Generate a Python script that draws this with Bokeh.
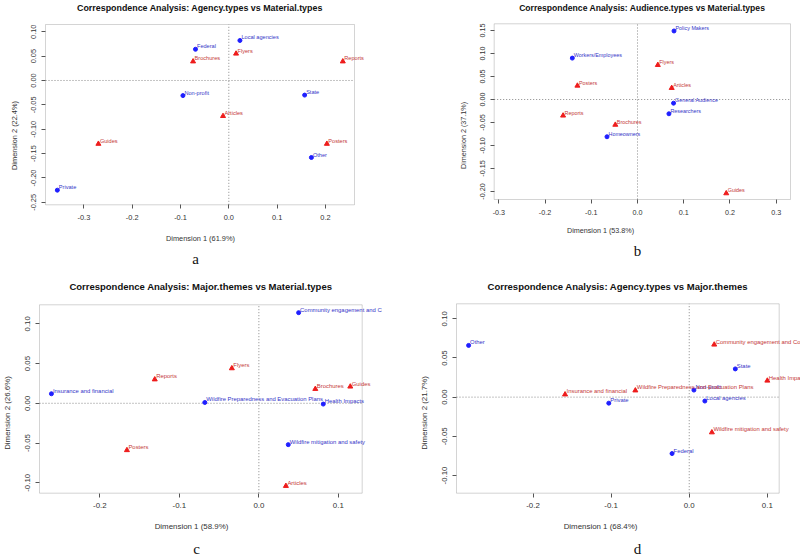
from bokeh.plotting import figure
from bokeh.models import (FixedTicker, Label, LabelSet, Range1d, ColumnDataSource,
                          Spacer, BoxAnnotation)
from bokeh.layouts import column, row
from bokeh.embed import file_html
from bokeh.resources import INLINE
from bokeh.core.properties import value

# ---------------- data ----------------
# Panel a
a_title = "Correspondence Analysis: Agency.types vs Material.types"
a_xlabel = "Dimension 1 (61.9%)"
a_ylabel = "Dimension 2 (22.4%)"
a_row_names = ["Federal", "Local agencies", "Non-profit", "Other", "Private", "State"]
a_row_x = [-0.069, 0.023, -0.095, 0.171, -0.355, 0.157]
a_row_y = [0.064, 0.082, -0.031, -0.158, -0.225, -0.030]
a_col_names = ["Articles", "Brochures", "Flyers", "Guides", "Posters", "Reports"]
a_col_x = [-0.012, -0.074, 0.015, -0.270, 0.203, 0.236]
a_col_y = [-0.073, 0.039, 0.055, -0.130, -0.130, 0.039]
a_xticks = [-0.3, -0.2, -0.1, 0.0, 0.1, 0.2]
a_xtick_labels = ["-0.3", "-0.2", "-0.1", "0.0", "0.1", "0.2"]
a_yticks = [-0.25, -0.20, -0.15, -0.10, -0.05, 0.0, 0.05, 0.10]
a_ytick_labels = ["-0.25", "-0.20", "-0.15", "-0.10", "-0.05", "0.00", "0.05", "0.10"]

# Panel b
b_title = "Correspondence Analysis: Audience.types vs Material.types"
b_xlabel = "Dimension 1 (53.8%)"
b_ylabel = "Dimension 2 (37.1%)"
b_row_names = ["General Audience", "Homeowners", "Policy Makers", "Researchers", "Workers/Employees"]
b_row_x = [0.078, -0.066, 0.079, 0.068, -0.141]
b_row_y = [-0.008, -0.081, 0.149, -0.031, 0.090]
b_col_names = ["Articles", "Brochures", "Flyers", "Guides", "Posters", "Reports"]
b_col_x = [0.074, -0.048, 0.044, 0.192, -0.130, -0.161]
b_col_y = [0.025, -0.055, 0.075, -0.204, 0.030, -0.035]
b_xticks = [-0.3, -0.2, -0.1, 0.0, 0.1, 0.2, 0.3]
b_xtick_labels = ["-0.3", "-0.2", "-0.1", "0.0", "0.1", "0.2", "0.3"]
b_yticks = [-0.20, -0.15, -0.10, -0.05, 0.0, 0.05, 0.10, 0.15]
b_ytick_labels = ["-0.20", "-0.15", "-0.10", "-0.05", "0.00", "0.05", "0.10", "0.15"]

# Panel c
c_title = "Correspondence Analysis: Major.themes vs Material.types"
c_xlabel = "Dimension 1 (58.9%)"
c_ylabel = "Dimension 2 (26.6%)"
c_row_names = ["Community engagement and Communication", "Health Impacts",
               "Insurance and financial", "Wildfire Preparedness and Evacuation Plans",
               "Wildfire mitigation and safety"]
c_row_x = [0.050, 0.081, -0.261, -0.068, 0.037]
c_row_y = [0.114, -0.001, 0.012, 0.001, -0.052]
c_col_names = ["Articles", "Brochures", "Flyers", "Guides", "Posters", "Reports"]
c_col_x = [0.034, 0.071, -0.034, 0.115, -0.166, -0.131]
c_col_y = [-0.104, 0.018, 0.044, 0.021, -0.059, 0.030]
c_xticks = [-0.2, -0.1, 0.0, 0.1]
c_xtick_labels = ["-0.2", "-0.1", "0.0", "0.1"]
c_yticks = [-0.10, -0.05, 0.0, 0.05, 0.10]
c_ytick_labels = ["-0.10", "-0.05", "0.00", "0.05", "0.10"]

# Panel d
d_title = "Correspondence Analysis: Agency.types vs Major.themes"
d_xlabel = "Dimension 1 (68.4%)"
d_ylabel = "Dimension 2 (21.7%)"
d_row_names = ["Federal", "Local agencies", "Non-profit", "Other", "Private", "State"]
d_row_x = [-0.022, 0.020, 0.006, -0.2825, -0.103, 0.059]
d_row_y = [-0.072, -0.005, 0.009, 0.066, -0.0077, 0.036]
d_col_names = ["Community engagement and Communication", "Health Impacts",
               "Insurance and financial", "Wildfire Preparedness and Evacuation Plans",
               "Wildfire mitigation and safety"]
d_col_x = [0.032, 0.100, -0.159, -0.069, 0.029]
d_col_y = [0.067, 0.021, 0.0034, 0.0085, -0.045]
d_xticks = [-0.2, -0.1, 0.0, 0.1]
d_xtick_labels = ["-0.2", "-0.1", "0.0", "0.1"]
d_yticks = [-0.10, -0.05, 0.0, 0.05, 0.10]
d_ytick_labels = ["-0.10", "-0.05", "0.00", "0.05", "0.10"]

# ---------------- style ----------------
FONT = "Liberation Sans"
ROW_PT = "#1f1fff"
ROW_TXT = "#3535c8"
COL_PT = "#ee1c1c"
COL_TXT = "#c43838"
AX = "#555555"
BOX = "#707070"


def panel(w, h, box_px, xr, yr, title, xlabel, ylabel, xt, xtl, yt, ytl,
          rows, cols, fs, letter, title_py, letter_pos, xlab_sd, ylab_sd):
    """box_px = (left, right, top, bottom) pixel edges of the plot box;
    xr, yr = data extent of that box."""
    bl, br, bt, bb = box_px

    def dx(px):
        return xr[0] + (px - bl) / (br - bl) * (xr[1] - xr[0])

    def dy(py):
        return yr[1] - (py - bt) / (bb - bt) * (yr[1] - yr[0])

    p = figure(width=w, height=h,
               x_range=Range1d(dx(0), dx(w)), y_range=Range1d(dy(h), dy(0)),
               output_backend="svg", toolbar_location=None,
               min_border_left=0, min_border_right=0,
               min_border_top=0, min_border_bottom=0)
    p.background_fill_color = "white"
    p.border_fill_color = "white"
    p.outline_line_color = None
    p.xgrid.visible = False
    p.ygrid.visible = False

    for ax, ticks, labels, lab, loc in ((p.xaxis[0], xt, xtl, xlabel, yr[0]),
                                        (p.yaxis[0], yt, ytl, ylabel, xr[0])):
        ax.fixed_location = loc
        ax.ticker = FixedTicker(ticks=ticks)
        ax.major_label_overrides = {t: l for t, l in zip(ticks, labels)}
        ax.minor_tick_line_color = None
        ax.major_tick_in = 0
        ax.major_tick_out = 4
        ax.major_tick_line_color = AX
        ax.axis_line_color = None
        ax.major_label_text_font = FONT
        ax.major_label_text_font_size = f"{fs:.1f}px"
        ax.major_label_text_color = "#333333"
        ax.axis_label = lab
        ax.axis_label_text_font = FONT
        ax.axis_label_text_font_style = "normal"
        ax.axis_label_text_font_size = f"{fs:.1f}px"
        ax.axis_label_text_color = "#333333"
    p.xaxis[0].major_label_standoff = 6
    p.xaxis[0].axis_label_standoff = xlab_sd
    p.yaxis[0].major_label_orientation = "vertical"
    p.yaxis[0].major_label_standoff = 5
    p.yaxis[0].axis_label_standoff = ylab_sd

    # plot box and dotted origin lines
    p.add_layout(BoxAnnotation(left=xr[0], right=xr[1], bottom=yr[0], top=yr[1],
                               fill_color=None, line_color=BOX, line_width=1))
    p.segment(x0=[xr[0], 0], y0=[0, yr[0]], x1=[xr[1], 0], y1=[0, yr[1]],
              line_color="#888888", line_dash="1 2", line_width=1)

    (rn, rx, ry), (cn, cx, cy) = rows, cols
    rsrc = ColumnDataSource(dict(x=rx, y=ry, t=rn))
    csrc = ColumnDataSource(dict(x=cx, y=cy, t=cn))
    lfs = f"{fs*0.75:.1f}px"
    p.scatter("x", "y", source=rsrc, marker="circle", size=4,
              fill_color=ROW_PT, line_color=ROW_PT)
    p.add_layout(LabelSet(x="x", y="y", text="t", source=rsrc, text_font=value(FONT),
                          text_font_size=value(lfs), text_color=ROW_TXT,
                          text_baseline="bottom", x_offset=1.5, y_offset=0))
    p.scatter("x", "y", source=csrc, marker="triangle", size=5,
              fill_color=COL_PT, line_color=COL_PT)
    p.add_layout(LabelSet(x="x", y="y", text="t", source=csrc, text_font=value(FONT),
                          text_font_size=value(lfs), text_color=COL_TXT,
                          text_baseline="bottom", x_offset=1.5, y_offset=0))

    # title above the box and sub-figure letter below
    p.add_layout(Label(x=(xr[0] + xr[1]) / 2, y=dy(title_py), text=title,
                       text_align="center", text_baseline="middle",
                       text_font=FONT, text_font_size=f"{fs*1.2:.1f}px",
                       text_font_style="bold", text_color="#111111"))
    p.add_layout(Label(x=dx(letter_pos[0]), y=dy(letter_pos[1] - 2), text=letter,
                       text_align="center", text_baseline="alphabetic",
                       text_font="Liberation Serif", text_font_size="15px",
                       text_color="#111111"))
    return p


pa = panel(400, 270, (45, 354, 24, 204.3), (-0.3795, 0.2602), (-0.255, 0.1148),
           a_title, a_xlabel, a_ylabel, a_xticks, a_xtick_labels, a_yticks, a_ytick_labels,
           (a_row_names, a_row_x, a_row_y), (a_col_names, a_col_x, a_col_y), 7.4, "a",
           7, (195, 260), 11, 10)
pb = panel(400, 270, (93.7, 390, 23.3, 199), (-0.31, 0.331), (-0.2174, 0.1646),
           b_title, b_xlabel, b_ylabel, b_xticks, b_xtick_labels, b_yticks, b_ytick_labels,
           (b_row_names, b_row_x, b_row_y), (b_col_names, b_col_x, b_col_y), 7.2, "b",
           7, (237, 252), 8, 10)
pc = panel(382, 285, (39, 361.7, 34.3, 222.7), (-0.276, 0.130), (-0.1131, 0.1239),
           c_title, c_xlabel, c_ylabel, c_xticks, c_xtick_labels, c_yticks, c_ytick_labels,
           (c_row_names, c_row_x, c_row_y), (c_col_names, c_col_x, c_col_y), 7.9, "c",
           15.7, (196, 280), 10, 11)
pd_ = panel(400, 285, (56, 378.7, 33.3, 222.7), (-0.298, 0.1152), (-0.1226, 0.1191),
            d_title, d_xlabel, d_ylabel, d_xticks, d_xtick_labels, d_yticks, d_ytick_labels,
            (d_row_names, d_row_x, d_row_y), (d_col_names, d_col_x, d_col_y), 7.9, "d",
            15.7, (237, 280), 10, 11)

layout = column(row(pa, pb, spacing=0),
                row(pc, Spacer(width=18, height=285), pd_, spacing=0), spacing=0)
open("out.html", "w").write(file_html(layout, INLINE))
